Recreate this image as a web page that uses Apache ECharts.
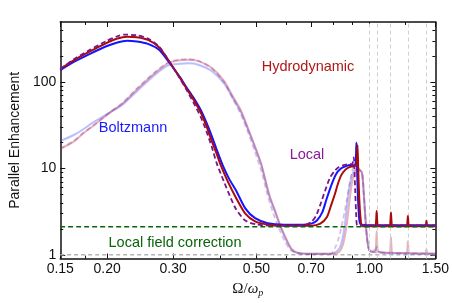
<!DOCTYPE html>
<html><head><meta charset="utf-8">
<script src="https://cdn.jsdelivr.net/npm/echarts@6/dist/echarts.min.js"></script>
<style>html,body{margin:0;padding:0;background:#fff}#c{width:452px;height:303px}</style>
</head><body><div id="c"></div>
<script>
const xTickLabels = [0.15, 0.2, 0.3, 0.5, 0.7, 1.0, 1.5];
const xMinorTicks = [0.175, 0.4, 0.6, 0.8, 0.9, 1.25];
const yTickLabels = [1, 10, 100];
const yMinorTicks = [2,3,4,5,6,7,8,9,20,30,40,50,60,70,80,90,200,300,400];
const resonanceX = [1.0, 1.046, 1.142, 1.267, 1.42];
const localFieldLevel = 2.12;
const unityLevel = 1;

const boltzmann = [[0.15,138],[0.163,172],[0.18,214],[0.199,262],[0.213,290],[0.226,304],[0.24,298],[0.257,279],[0.275,238],[0.292,172],[0.313,114],[0.325,88],[0.34,66],[0.355,48],[0.368,34],[0.38,24],[0.393,16],[0.407,10.8],[0.423,7.6],[0.441,5.6],[0.467,3.46],[0.496,2.66],[0.536,2.33],[0.592,2.24],[0.665,2.24],[0.7,2.3],[0.725,2.5],[0.749,3.1],[0.77,4.5],[0.794,6.6],[0.815,8.6],[0.84,10.0],[0.867,10.7],[0.89,11.0],[0.905,10.9],[0.915,11],[0.92,12],[0.924,20],[0.927,11],[0.932,5],[0.94,2.6],[0.95,2.25],[1.0,2.2],[1.5,2.2]];

const hydrodynamic = [[0.15,143],[0.163,180],[0.18,228],[0.199,285],[0.213,322],[0.226,338],[0.24,333],[0.257,310],[0.275,255],[0.292,178],[0.313,112],[0.325,86],[0.34,63],[0.355,45],[0.368,31],[0.38,21],[0.393,14.3],[0.40,11.5],[0.42,7],[0.441,4.6],[0.467,3.0],[0.496,2.45],[0.536,2.25],[0.6,2.18],[0.7,2.18],[0.74,2.3],[0.771,2.75],[0.79,3.7],[0.81,5.1],[0.826,6.8],[0.842,8.4],[0.865,9.8],[0.885,10.4],[0.905,10.6],[0.92,10.8],[0.926,12],[0.93,18.7],[0.934,10],[0.94,4.5],[0.948,2.6],[0.958,2.15],[1.036,2.15],[1.042,2.4],[1.046,3.23],[1.05,2.4],[1.056,2.15],[1.132,2.15],[1.138,2.4],[1.142,3.09],[1.146,2.4],[1.152,2.15],[1.257,2.15],[1.263,2.35],[1.267,2.83],[1.271,2.35],[1.277,2.15],[1.41,2.15],[1.416,2.25],[1.42,2.48],[1.424,2.25],[1.43,2.15],[1.5,2.15]];

const localModel = [[0.15,142],[0.163,185],[0.18,238],[0.199,300],[0.213,342],[0.222,357],[0.24,350],[0.257,322],[0.275,260],[0.292,178],[0.313,110],[0.325,83],[0.34,58],[0.355,40],[0.368,27],[0.38,18],[0.392,11.5],[0.41,7],[0.425,4.8],[0.441,3.4],[0.467,2.5],[0.5,2.25],[0.55,2.18],[0.64,2.18],[0.68,2.25],[0.70,2.4],[0.72,2.8],[0.74,3.8],[0.763,5.6],[0.785,7.8],[0.81,9.5],[0.83,10.4],[0.85,10.9],[0.87,11.2],[0.9,11.3],[0.906,12.5],[0.909,13.5],[0.912,11],[0.917,5.5],[0.923,2.8],[0.93,2.2],[1.5,2.2]];

const boltzmannFaded = [[0.15,20.8],[0.163,24.5],[0.172,28.2],[0.185,35],[0.205,45.7],[0.219,54.3],[0.241,80],[0.268,122],[0.292,158],[0.313,164],[0.33,166],[0.35,160],[0.38,135],[0.41,97],[0.432,66],[0.455,45],[0.477,27],[0.496,17.4],[0.516,10.8],[0.541,4.8],[0.563,3.0],[0.58,2.1],[0.6,1.5],[0.62,1.15],[0.64,1.06],[0.68,1.03],[0.79,1.03],[0.82,1.1],[0.84,1.3],[0.86,2.2],[0.876,4.5],[0.89,7],[0.91,9.5],[0.93,9.8],[0.955,9.0],[0.966,5.3],[0.982,1.9],[0.995,1.21],[1.01,1.1],[1.04,1.15],[1.046,1.23],[1.055,1.1],[1.1,1.05],[1.5,1.03]];

const hydrodynamicFaded = [[0.15,16.9],[0.163,20.5],[0.172,25.2],[0.185,32],[0.205,45.7],[0.219,56],[0.241,84],[0.268,128],[0.292,168],[0.313,180],[0.33,182],[0.35,176],[0.38,147],[0.41,104],[0.432,70],[0.455,47],[0.477,28],[0.496,18],[0.516,11],[0.541,5],[0.563,3.1],[0.58,2.15],[0.6,1.55],[0.62,1.18],[0.64,1.07],[0.68,1.03],[0.8,1.03],[0.83,1.08],[0.85,1.3],[0.87,2.2],[0.887,4.5],[0.90,7],[0.92,9.5],[0.935,10],[0.955,9.0],[0.966,5.3],[0.982,1.9],[0.995,1.21],[1.01,1.08],[1.036,1.08],[1.042,1.3],[1.046,1.88],[1.05,1.3],[1.056,1.08],[1.132,1.06],[1.138,1.2],[1.142,1.6],[1.146,1.2],[1.152,1.06],[1.257,1.05],[1.263,1.15],[1.267,1.44],[1.271,1.15],[1.277,1.05],[1.41,1.04],[1.416,1.08],[1.42,1.16],[1.424,1.08],[1.43,1.04],[1.5,1.03]];

const localFaded = [[0.15,17],[0.163,21],[0.172,25.5],[0.185,32.5],[0.205,46],[0.219,57],[0.241,86],[0.268,131],[0.292,172],[0.313,184],[0.33,185],[0.35,178],[0.38,145],[0.41,100],[0.432,66],[0.455,42],[0.477,25],[0.496,15.5],[0.516,9.2],[0.535,5],[0.555,3.0],[0.575,2.0],[0.595,1.45],[0.615,1.15],[0.64,1.05],[0.68,1.02],[0.79,1.03],[0.81,1.2],[0.83,1.6],[0.85,2.5],[0.87,4.2],[0.885,6.5],[0.903,9.9],[0.92,10.5],[0.94,9.6],[0.958,8.5],[0.966,5.3],[0.98,2],[0.995,1.2],[1.01,1.08],[1.5,1.03]];

const X_MIN = 0.15, X_MAX = 1.5, Y_MIN = 0.905, Y_MAX = 500;
const FONT = '"Liberation Sans", Arial, sans-serif';
const SERIF = '"Liberation Serif", "DejaVu Serif", serif';

function xAxisDef(pos, ticks, len, labels, line) {
  return {
    type: 'log', logBase: 10, min: X_MIN, max: X_MAX, position: pos,
    axisLine: { show: line, onZero: false, lineStyle: { color: '#111', width: 1.5 } },
    axisTick: { show: true, inside: true, length: len, customValues: ticks, lineStyle: { color: '#111', width: 1 } },
    axisLabel: labels ? { show: true, customValues: ticks, formatter: v => Number(v).toFixed(2), fontSize: 14, fontFamily: FONT, color: '#111', margin: 4 } : { show: false },
    splitLine: { show: false }, minorTick: { show: false }
  };
}
function yAxisDef(pos, ticks, len, labels, line) {
  return {
    type: 'log', logBase: 10, min: Y_MIN, max: Y_MAX, position: pos,
    axisLine: { show: line, onZero: false, lineStyle: { color: '#111', width: 1.5 } },
    axisTick: { show: true, inside: true, length: len, customValues: ticks, lineStyle: { color: '#111', width: 1 } },
    axisLabel: labels ? { show: true, customValues: ticks, formatter: v => String(Math.round(v)), fontSize: 14, fontFamily: FONT, color: '#111', margin: 4 } : { show: false },
    splitLine: { show: false }, minorTick: { show: false }
  };
}

const xAxes = [
  xAxisDef('bottom', xTickLabels, 5, true, true),
  xAxisDef('bottom', xMinorTicks, 3, false, false),
  xAxisDef('top', xTickLabels, 5, false, true),
  xAxisDef('top', xMinorTicks, 3, false, false)
];
xAxes[0].name = '{o|Ω/}{w|ω}{p|p}';
xAxes[0].nameLocation = 'middle';
xAxes[0].nameGap = 20;
xAxes[0].nameTextStyle = {
  rich: {
    o: { fontFamily: SERIF, fontSize: 15, color: '#111', lineHeight: 18 },
    w: { fontFamily: SERIF, fontStyle: 'italic', fontSize: 15, color: '#111', lineHeight: 18 },
    p: { fontFamily: SERIF, fontStyle: 'italic', fontSize: 10, color: '#111', lineHeight: 11, verticalAlign: 'bottom' }
  }
};
const yAxes = [
  yAxisDef('left', yTickLabels, 5, true, true),
  yAxisDef('left', yMinorTicks, 3, false, false),
  yAxisDef('right', yTickLabels, 5, false, true),
  yAxisDef('right', yMinorTicks, 3, false, false)
];
yAxes[0].name = 'Parallel Enhancement';
yAxes[0].nameLocation = 'middle';
yAxes[0].nameGap = 29;
yAxes[0].nameTextStyle = { fontFamily: FONT, fontSize: 14, color: '#111' };

function curve(name, data, color, width, type, z) {
  return { name, type: 'line', data, showSymbol: false, symbol: 'none', smooth: 0.25,
    lineStyle: { color, width, type }, z, silent: true, animation: false };
}

const hLine = (level) => [[X_MIN, level], [X_MAX, level]];

const series = [
  { type: 'line', data: [], silent: true, z: 1,
    markLine: { silent: true, symbol: 'none', label: { show: false },
      lineStyle: { color: '#d0d0d0', width: 1, type: [4, 3] },
      data: resonanceX.map(v => ({ xAxis: v })) } },
  curve('unity', hLine(unityLevel), '#b4b4b4', 1.5, [4, 3], 2),
  curve('Boltzmann faded', boltzmannFaded, 'rgba(40,60,255,0.32)', 2, 'solid', 3),
  curve('Hydrodynamic faded', hydrodynamicFaded, 'rgba(180,20,40,0.32)', 2, 'solid', 3),
  curve('Local faded', localFaded, 'rgba(140,40,160,0.3)', 1.8, [5, 3], 3),
  curve('Boltzmann', boltzmann, '#1414ff', 2, 'solid', 4),
  curve('Hydrodynamic', hydrodynamic, '#aa0a0a', 2, 'solid', 5),
  curve('Local', localModel, '#7a1488', 1.8, [5, 3], 6),
  curve('Local field correction', hLine(localFieldLevel), '#0b640b', 1.5, [5, 3], 7)
];

const chart = echarts.init(document.getElementById('c'), null, { renderer: 'canvas' });
chart.setOption({
  animation: false,
  backgroundColor: '#fff',
  grid: { left: 47, right: 14, top: 22, bottom: 40, containLabel: false },
  xAxis: xAxes,
  yAxis: yAxes,
  series,
  graphic: [
    { type: 'text', x: 308, y: 67, style: { text: 'Hydrodynamic', fill: '#b01818', font: '14.5px ' + FONT, textAlign: 'center', textVerticalAlign: 'middle', align: 'center', verticalAlign: 'middle' } },
    { type: 'text', x: 133, y: 128, style: { text: 'Boltzmann', fill: '#1a1aff', font: '14.5px ' + FONT, textAlign: 'center', textVerticalAlign: 'middle', align: 'center', verticalAlign: 'middle' } },
    { type: 'text', x: 307, y: 155, style: { text: 'Local', fill: '#8a1a9a', font: '14.5px ' + FONT, textAlign: 'center', textVerticalAlign: 'middle', align: 'center', verticalAlign: 'middle' } },
    { type: 'text', x: 175, y: 243, style: { text: 'Local field correction', fill: '#0b640b', font: '14.5px ' + FONT, textAlign: 'center', textVerticalAlign: 'middle', align: 'center', verticalAlign: 'middle' } }
  ]
});
</script>
</body></html>
